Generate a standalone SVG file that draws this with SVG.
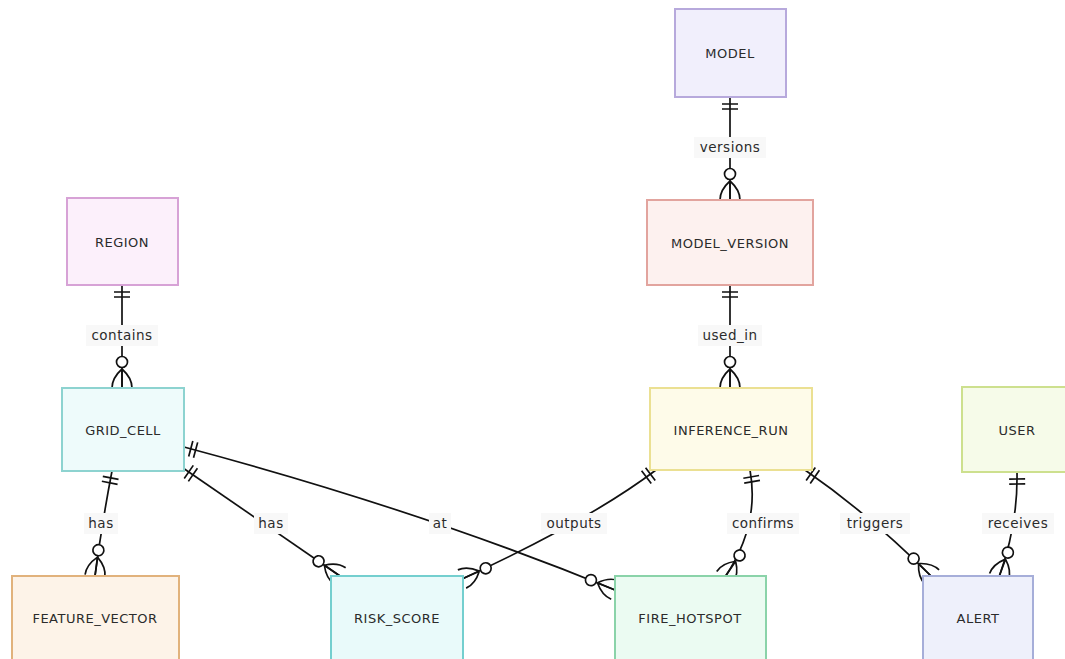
<svg xmlns="http://www.w3.org/2000/svg" xmlns:xlink="http://www.w3.org/1999/xlink" width="1065" height="659" viewBox="0 0 1065 659">
<style>
.ent rect{stroke-width:2}
.ent text{font-family:"DejaVu Sans",Verdana,sans-serif;font-size:13px;letter-spacing:0.5px;fill:#2b2b2b;text-anchor:middle;dominant-baseline:central}
.rel{fill:none;stroke:#111;stroke-width:1.7}
.lbl rect{fill:#f8f8f8}
.lbl text{font-family:"DejaVu Sans",Verdana,sans-serif;font-size:13.5px;letter-spacing:0.5px;fill:#2b2b2b;text-anchor:middle;dominant-baseline:central}
.mk{fill:none;stroke:#111;stroke-width:1.7}
.mk circle{fill:#fff}
</style>
<defs>
<g id="one" class="mk"><path d="M-7,-8 V8 M-12,-8 V8"/></g>
<g id="many" class="mk"><circle cx="-26" cy="0" r="5.5"/><path d="M-19,0 Q-10,-10 0,-10 M-19,0 L0,0 M-19,0 Q-10,10 0,10"/></g>
</defs>
<rect width="1065" height="659" fill="#fff"/>
<g id="connectors">
<path class="rel" d="M730,97 V200"/>
<path class="rel" d="M122,285 V388"/>
<path class="rel" d="M730,285 V388"/>
<path class="rel" d="M112,471 Q102,523 95,576"/>
<path class="rel" d="M183,468 L340,576"/>
<path class="rel" d="M184,447 Q420,510 615,590"/>
<path class="rel" d="M656,470 Q590,520 462,579"/>
<path class="rel" d="M750,470 Q760,525 725,577"/>
<path class="rel" d="M805,470 Q870,515 932,577"/>
<path class="rel" d="M1017,472 Q1018,525 999,577"/>
<use xlink:href="#one" transform="translate(730,97) rotate(-90)"/>
<use xlink:href="#many" transform="translate(730,200) rotate(90)"/>
<use xlink:href="#one" transform="translate(122,285) rotate(-90)"/>
<use xlink:href="#many" transform="translate(122,388) rotate(90)"/>
<use xlink:href="#one" transform="translate(730,285) rotate(-90)"/>
<use xlink:href="#many" transform="translate(730,388) rotate(90)"/>
<use xlink:href="#one" transform="translate(112,471) rotate(-79)"/>
<use xlink:href="#many" transform="translate(95,576) rotate(97.5)"/>
<use xlink:href="#one" transform="translate(183,468) rotate(-145.5)"/>
<use xlink:href="#many" transform="translate(340,576) rotate(34.5)"/>
<use xlink:href="#one" transform="translate(184,447) rotate(195)"/>
<use xlink:href="#many" transform="translate(615,590) rotate(22.3)"/>
<use xlink:href="#one" transform="translate(656,470) rotate(-37)"/>
<use xlink:href="#many" transform="translate(462,579) rotate(155.6)"/>
<use xlink:href="#one" transform="translate(750,470) rotate(-100)"/>
<use xlink:href="#many" transform="translate(725,577) rotate(124)"/>
<use xlink:href="#one" transform="translate(805,470) rotate(-145)"/>
<use xlink:href="#many" transform="translate(932,577) rotate(45)"/>
<use xlink:href="#one" transform="translate(1017,472) rotate(-91)"/>
<use xlink:href="#many" transform="translate(999,577) rotate(110)"/>
<g class="lbl"><rect x="694" y="137" width="72" height="21"/><text x="730" y="147">versions</text></g>
<g class="lbl"><rect x="86" y="325" width="72" height="21"/><text x="122" y="335">contains</text></g>
<g class="lbl"><rect x="698" y="325" width="64" height="21"/><text x="730" y="335">used_in</text></g>
<g class="lbl"><rect x="84" y="513" width="34" height="21"/><text x="101" y="523">has</text></g>
<g class="lbl"><rect x="254" y="513" width="34" height="21"/><text x="271" y="523">has</text></g>
<g class="lbl"><rect x="429" y="513" width="22" height="21"/><text x="440" y="523">at</text></g>
<g class="lbl"><rect x="541" y="513" width="66" height="21"/><text x="574" y="523">outputs</text></g>
<g class="lbl"><rect x="727" y="513" width="72" height="21"/><text x="763" y="523">confirms</text></g>
<g class="lbl"><rect x="840" y="513" width="70" height="21"/><text x="875" y="523">triggers</text></g>
<g class="lbl"><rect x="982" y="513" width="72" height="21"/><text x="1018" y="523">receives</text></g>
</g>
<g id="MODEL" class="ent"><rect x="675" y="9" width="111" height="88" fill="#f1effc" stroke="#b7a9dc"/><text x="730" y="53">MODEL</text></g>
<g id="MODEL_VERSION" class="ent"><rect x="647" y="200" width="166" height="85" fill="#fdf1ef" stroke="#e2a49e"/><text x="730" y="243">MODEL_VERSION</text></g>
<g id="REGION" class="ent"><rect x="67" y="198" width="111" height="87" fill="#fcf0fb" stroke="#d7a2d6"/><text x="122" y="242">REGION</text></g>
<g id="GRID_CELL" class="ent"><rect x="62" y="388" width="122" height="83" fill="#eefbfb" stroke="#8dd3d0"/><text x="123" y="430">GRID_CELL</text></g>
<g id="INFERENCE_RUN" class="ent"><rect x="650" y="388" width="162" height="82" fill="#fefbe9" stroke="#ebe092"/><text x="731" y="430">INFERENCE_RUN</text></g>
<g id="USER" class="ent"><rect x="962" y="387" width="110" height="85" fill="#f6fbe9" stroke="#cde08e"/><text x="1017" y="430">USER</text></g>
<g id="FEATURE_VECTOR" class="ent"><rect x="12" y="576" width="167" height="85" fill="#fdf3e8" stroke="#e1b27c"/><text x="95" y="618">FEATURE_VECTOR</text></g>
<g id="RISK_SCORE" class="ent"><rect x="331" y="576" width="132" height="85" fill="#e9fafa" stroke="#74cfcf"/><text x="397" y="618">RISK_SCORE</text></g>
<g id="FIRE_HOTSPOT" class="ent"><rect x="615" y="576" width="151" height="85" fill="#ebfbf2" stroke="#8ad3a9"/><text x="690" y="618">FIRE_HOTSPOT</text></g>
<g id="ALERT" class="ent"><rect x="923" y="576" width="110" height="85" fill="#eef0fb" stroke="#a6aed9"/><text x="978" y="618">ALERT</text></g>
</svg>
